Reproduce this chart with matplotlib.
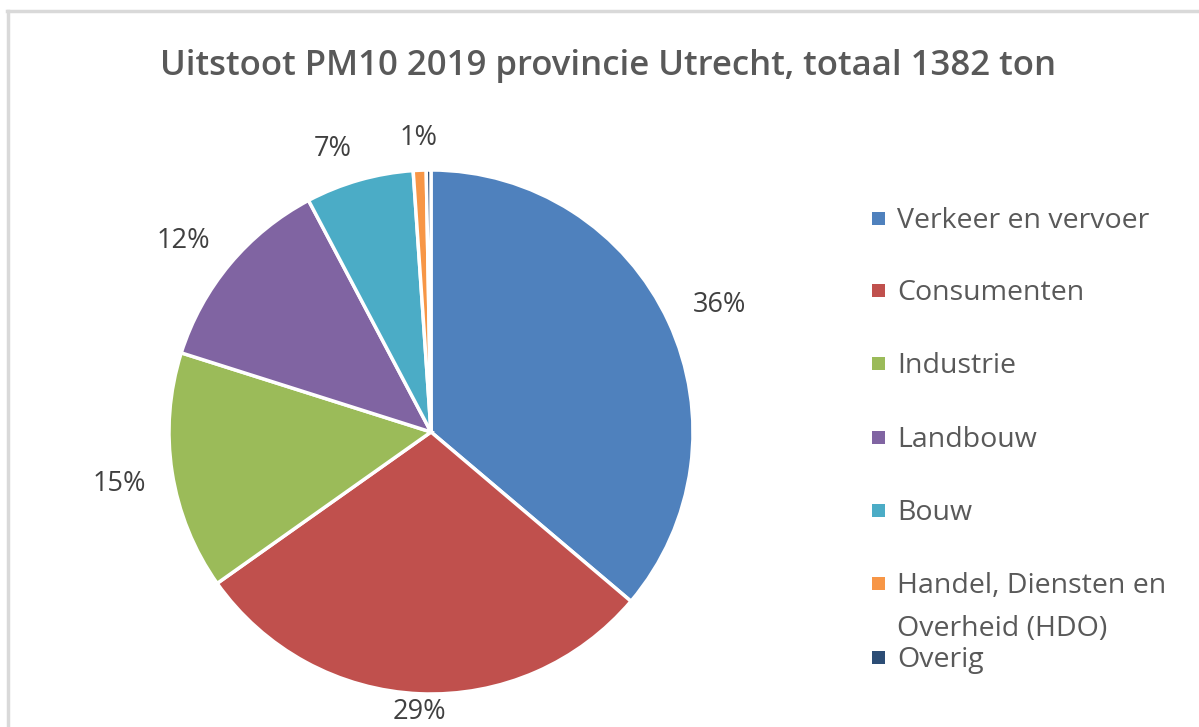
import numpy as np
import matplotlib
matplotlib.use("Agg")
from matplotlib import pyplot as plt
from matplotlib.patches import Rectangle
from matplotlib.lines import Line2D

title = "Uitstoot PM10 2019 provincie Utrecht, totaal 1382 ton"
categories = ["Verkeer en vervoer", "Consumenten", "Industrie", "Landbouw",
              "Bouw", "Handel, Diensten en\nOverheid (HDO)", "Overig"]
tonnes = [500, 401, 203, 171, 92, 11, 4]
colors = ["#4F81BD", "#C0504D", "#9BBB59", "#8064A2",
          "#4BACC6", "#F79646", "#2C4D75"]

plt.rcParams["font.family"] = ["Open Sans", "DejaVu Sans"]

W, H = 1199, 727
fig = plt.figure(figsize=(W / 100, H / 100), dpi=100)

# chart frame (top and left edges visible in the cropped screenshot)
fig.add_artist(Line2D([7 / W, 1], [1 - 11 / H] * 2, color="#d9d9d9", lw=2.5))
fig.add_artist(Line2D([8 / W] * 2, [0, 1 - 11 / H], color="#d9d9d9", lw=2.5))

cx, cy, r = 431, 432, 262
ax = fig.add_axes([(cx - r) / W, (H - cy - r) / H, 2 * r / W, 2 * r / H])
ax.axis("off")

wedges, _ = ax.pie(tonnes, colors=colors, startangle=90, counterclock=False,
                   radius=1, wedgeprops=dict(edgecolor="white", linewidth=2.5))
ax.set_xlim(-1, 1)
ax.set_ylim(-1, 1)

total = sum(tonnes)
for w, v in zip(wedges, tonnes):
    pct = round(100 * v / total)
    if pct == 0:
        continue
    ang = np.deg2rad((w.theta1 + w.theta2) / 2)
    c, s = np.cos(ang), np.sin(ang)
    if s < -0.3:
        x, y = 1.015 * c, 1.015 * s
    else:
        x, y = 1.1 * c, 1.1 * s - 0.03
    ha = "left" if c > 0.2 else ("right" if c < -0.2 else "center")
    va = "bottom" if s > 0.3 else ("top" if s < -0.3 else "center")
    ax.text(x, y, f"{pct}%", ha=ha, va=va, fontsize=19.5, color="#404040")

fig.text(608 / W, 1 - 66 / H, title, ha="center", va="center",
         fontsize=25, fontweight="semibold", color="#595959")

# legend
ys = [218, 290, 363, 437, 510, 583, 657]
for cat, col, y in zip(categories, colors, ys):
    fig.add_artist(Rectangle((872 / W, 1 - (y + 7) / H), 13 / W, 13 / H,
                             facecolor=col, edgecolor="none"))
    fig.text(897 / W, 1 - (y - 11) / H, cat, ha="left", va="top",
             fontsize=20.5, color="#595959", linespacing=1.72)

fig.savefig("out.png", dpi=100)
